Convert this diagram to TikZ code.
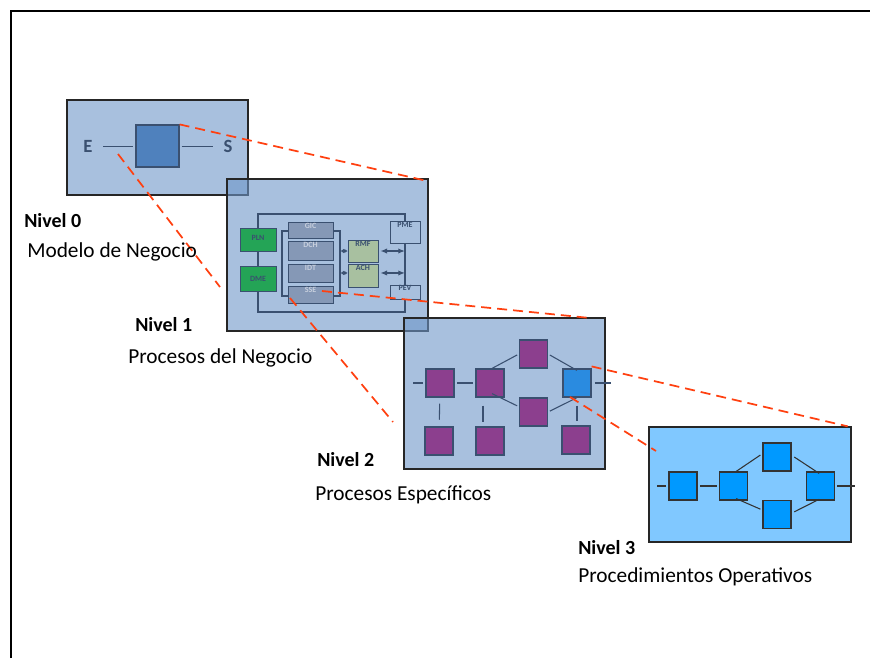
\documentclass[tikz,border=0pt]{standalone}
\usepackage{fontspec}
\setmainfont{Carlito}
\usetikzlibrary{positioning,arrows.meta}
\definecolor{lvlblue}{RGB}{110,150,200}
\definecolor{skyfill}{RGB}{128,200,255}
\definecolor{sqblue}{RGB}{79,129,189}
\definecolor{inkblue}{RGB}{58,80,112}
\definecolor{grnbox}{RGB}{36,164,86}
\definecolor{gryfill}{RGB}{133,152,182}
\definecolor{gryink}{RGB}{200,208,222}
\definecolor{sagefill}{RGB}{168,192,160}
\definecolor{plainfill}{RGB}{168,192,222}
\definecolor{purp}{RGB}{140,63,142}
\definecolor{selblue}{RGB}{42,139,224}
\definecolor{procblue}{RGB}{0,153,255}
\definecolor{zoomred}{RGB}{255,64,16}

\begin{document}
\begin{tikzpicture}[x=0.75pt,y=-0.75pt,
    level/.style={draw=black!85,line width=1pt,fill=lvlblue,fill opacity=0.6,text opacity=1,
                  minimum width=#1,inner sep=0pt},
    tiny/.style={draw=inkblue,line width=0.6pt,inner sep=0pt,font=\fontsize{6}{7}\selectfont\bfseries},
    tag/.style={anchor=north,inner sep=1pt,font=\fontsize{6}{7}\selectfont\bfseries},
    sq/.style={draw=inkblue,line width=0.9pt,minimum size=21pt,inner sep=0pt},
    link/.style={draw=inkblue,line width=0.8pt},
    zoom/.style={draw=zoomred,line width=1.3pt,dash pattern=on 7.5pt off 4.5pt},
    title/.style={anchor=base west,inner sep=0pt,font=\fontsize{15}{18}\selectfont\bfseries},
    caption/.style={anchor=base west,inner sep=0pt,font=\fontsize{16}{19}\selectfont}]
\useasboundingbox (0,0) rectangle (870,658);
\draw[line width=1.5pt] (11,658) -- (11,11) -- (870,11);

% Nivel 0
\node[level=135.75pt,minimum height=71.25pt] (L0) at (157.5,147.5) {};
\node[draw=inkblue,line width=0.9pt,fill=sqblue,minimum width=32.25pt,minimum height=31.5pt] (box0) at (157.5,146) {};
\node[text=inkblue,font=\fontsize{14}{16}\selectfont\bfseries,inner sep=2pt] (in) at (88,146.5) {E};
\node[text=inkblue,font=\fontsize{14}{16}\selectfont\bfseries,inner sep=2pt] (out) at (228,146.5) {S};
\draw[link] ([xshift=6pt]in.east) -- ([xshift=-1.5pt]in.east -| box0.west);
\draw[link] ([xshift=1.5pt]out.west -| box0.east) -- ([xshift=-6pt]out.west);

% Nivel 1
\node[level=150.75pt,minimum height=114pt] (L1) at (327.5,255) {};
\node[draw=inkblue,line width=0.9pt,minimum width=110.25pt,minimum height=73.5pt,inner sep=0pt] (frame) at (331.5,263) {};
\node[draw=inkblue,line width=0.9pt,minimum width=43.5pt,minimum height=48.75pt,inner sep=0pt] (grp) at (311,263.5) {};
\node[tiny,fill=grnbox,text=inkblue,minimum width=27pt,minimum height=17.25pt] (PLN) at (258,239.5) {\raisebox{2pt}{PLN}};
\node[tiny,fill=grnbox,text=inkblue,minimum width=27pt,minimum height=18.75pt] (DME) at (258,278.5) {DME};
\foreach \nm/\yy/\hh in {GIC/230/12pt,DCH/250.5/14.25pt,IDT/273/13.5pt,SSE/294.5/12.75pt}
  \node[tiny,fill=gryfill,minimum width=33.75pt,minimum height=\hh,
        label={[tag,text=gryink]north:\nm}] (\nm) at (310.5,\yy) {};
\node[tiny,fill=sagefill,minimum width=22.5pt,minimum height=16.5pt,
      label={[tag,text=inkblue]north:RMF}] (RMF) at (363,251) {};
\node[tiny,fill=sagefill,minimum width=22.5pt,minimum height=17.25pt,
      label={[tag,text=inkblue]north:ACH}] (ACH) at (363,275.5) {};
\node[tiny,fill=plainfill,minimum width=22.5pt,minimum height=16.5pt,
      label={[tag,text=inkblue]north:PME}] (PME) at (405,232) {};
\node[tiny,fill=plainfill,minimum width=22.5pt,minimum height=10.5pt,
      label={[tag,inner sep=0.5pt,text=inkblue]north:PEV}] (PEV) at (405,292) {};
\draw[inkblue,line width=0.9pt,{Latex[length=2.5pt,width=3.5pt]}-{Latex[length=2.5pt,width=3.5pt]}]
  (grp.east |- RMF.west) -- (RMF.west);
\draw[inkblue,line width=0.9pt,{Latex[length=2.5pt,width=3.5pt]}-{Latex[length=2.5pt,width=3.5pt]}]
  ([yshift=1.9pt]grp.east |- ACH.west) -- ([yshift=1.9pt]ACH.west);
\draw[inkblue,line width=0.9pt,{Latex[length=5pt,width=4pt]}-{Latex[length=5pt,width=4pt]},shorten <=1.5pt,shorten >=0.5pt]
  (RMF.east) -- (RMF.east -| frame.east);
\draw[inkblue,line width=0.9pt,{Latex[length=5pt,width=4pt]}-{Latex[length=5pt,width=4pt]},shorten <=1.5pt,shorten >=0.5pt]
  ([yshift=1.9pt]ACH.east) -- ([yshift=1.9pt]ACH.east -| frame.east);

% Nivel 2
\node[level=150.75pt,minimum height=113.25pt] (L2) at (504.5,393.5) {};
\node[sq,fill=purp] (a) at (440,383) {};
\node[sq,fill=purp] (b) at (490,383) {};
\node[sq,fill=purp] (c) at (533.5,354) {};
\node[sq,fill=purp] (d) at (533.5,412) {};
\node[sq,fill=selblue] (e) at (577,383) {};
\node[sq,fill=purp] (f) at (439,441) {};
\node[sq,fill=purp] (g) at (490,441) {};
\node[sq,fill=purp] (h) at (576,440) {};
\coordinate (in2) at (413,383);
\coordinate (out2) at (611,383);
\draw[link] (in2) -- ([xshift=-2pt]a.west);
\draw[link,shorten <=2pt,shorten >=1.5pt] (a) -- (b);
\draw[link,shorten >=1.5pt] ([xshift=1.5pt]b.north) -- (c.west);
\draw[link,shorten <=1.5pt] (c.east) -- ([yshift=-1.5pt]e.north);
\draw[link,shorten >=1.5pt] ([xshift=1.5pt,yshift=3pt]b.south) -- ([yshift=4pt]d.west);
\draw[link,shorten <=1.5pt] (d.east) -- (e.south);
\draw[link] ([xshift=2.5pt]e.east) -- (out2);
\draw[link,shorten <=4.5pt,shorten >=5pt] (a) -- (f);
\draw[link,shorten <=6pt,shorten >=3pt] ([xshift=-5.25pt]b.south) -- ([xshift=-5.25pt]g.north);
\draw[link,shorten <=6pt,shorten >=3pt] (e.south) -- (e.south |- h.north);

% Nivel 3
\node[draw=black!85,line width=1pt,fill=skyfill,minimum width=151.5pt,minimum height=86.25pt] (L3) at (750,484.5) {};
\node[sq,fill=procblue,draw=black!80] (p1) at (683,486) {};
\node[sq,fill=procblue,draw=black!80] (p2) at (733.5,486) {};
\node[sq,fill=procblue,draw=black!80] (p3) at (777,457) {};
\node[sq,fill=procblue,draw=black!80] (p4) at (777,514.5) {};
\node[sq,fill=procblue,draw=black!80] (p5) at (820.5,486) {};
\coordinate (in3) at (657,486);
\coordinate (out3) at (855,486);
\draw[link,draw=black!80] (in3) -- ([xshift=-1.5pt]p1.west);
\draw[link,draw=black!80,shorten <=2pt,shorten >=1.5pt] (p1) -- (p2);
\draw[link,draw=black!80] ([xshift=2pt]p2.north) -- ([yshift=1.5pt,xshift=-1.5pt]p3.west);
\draw[link,draw=black!80] ([xshift=2pt]p3.east) -- ([xshift=-1pt,yshift=-1.5pt]p5.north);
\draw[link,draw=black!80] ([xshift=2pt,yshift=1.5pt]p2.south) -- ([xshift=-1.5pt,yshift=4pt]p4.west);
\draw[link,draw=black!80] ([xshift=2pt,yshift=2pt]p4.east) -- ([xshift=-1pt,yshift=1pt]p5.south);
\draw[link,draw=black!80] ([xshift=1.5pt]p5.east) -- (out3);

% zoom lines
\coordinate (z2a) at (118,154);
\coordinate (z2b) at (220,287);
\coordinate (z3a) at (322,291);
\coordinate (z3b) at (590,318);
\coordinate (z4a) at (290,298);
\coordinate (z4b) at (393,422);
\coordinate (z6a) at (570,397);
\coordinate (z6b) at (656,451);
\draw[zoom] (box0.north east) -- ([xshift=-1pt,yshift=-2pt]L1.north east);
\draw[zoom] (z2a) -- (z2b);
\draw[zoom] (z3a) -- (z3b);
\draw[zoom] (z4a) -- (z4b);
\draw[zoom] ([yshift=1.5pt]e.north east) -- ([xshift=-3pt]L3.north east);
\draw[zoom] (z6a) -- (z6b);

% labels
\node[title] (n0) at (24,227) {Nivel 0};
\node[caption] (t0) at (27,257) {Modelo de Negocio};
\node[title] (n1) at (135,331) {Nivel 1};
\node[caption] (t1) at (128,363) {Procesos del Negocio};
\node[title] (n2) at (317,466) {Nivel 2};
\node[caption] (t2) at (315,500) {Procesos Específicos};
\node[title] (n3) at (578,554) {Nivel 3};
\node[caption] (t3) at (578,582) {Procedimientos Operativos};
\end{tikzpicture}
\end{document}
